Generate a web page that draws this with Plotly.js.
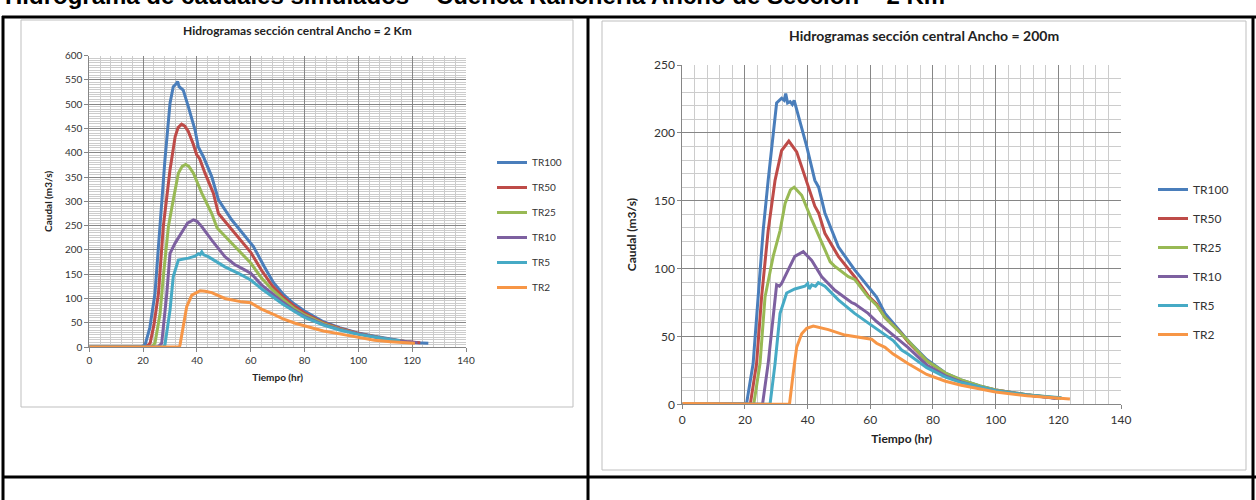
<!DOCTYPE html>
<html><head><meta charset="utf-8">
<script src="https://cdn.plot.ly/plotly-3.0.1.min.js"></script>
<style>html,body{margin:0;padding:0;background:#fff}#g{width:1256px;height:500px}</style>
</head><body><div id="g"></div>
<script>
const seriesNames = ['TR100','TR50','TR25','TR10','TR5','TR2'];
const seriesColors = ['#4A7EBB','#BE4B48','#98B954','#7D60A0','#46AAC5','#F79646'];

// Left chart: Ancho = 2 Km
const L_t_TR100 = [0,19,20.7,22.5,24.4,26.3,28.1,30,31.2,32.3,32.8,33.4,34.9,36.8,39.3,40.5,42.4,45.5,48,52.9,56,59,61,65,68.4,72,75.8,80,87,93,99.4,106,112,118,121.7,126];
const L_q_TR100 = [0,0,4,40,110,248,385,502,536,542,547,536,529,495,447,412,392,351,303,262,241,220,207,166,133,109,90,74,52,40,29.5,22,16,11,9,7.6];
const L_t_TR50 = [0,21,22.6,24,25.7,27.5,30,31.9,33,34.3,35.5,36.8,38.5,39.9,41,43,46.1,48,51,54.2,56,60,64,68,72,76,80,87,93,100,106,112,118,123];
const L_q_TR50 = [0,0,7.6,45,110,248,365,433,452,459,455,444,420,396,388,358,317,275,255,234,222,195,158,126,103,85,70,50,39,28,21,15,11,9];
const L_t_TR25 = [0,23,24.4,26.3,27.5,28.5,29.4,31.2,33.1,34.5,35.8,37,38.7,41.8,45.5,47.5,48.2,51,54.2,56,60,64,68,72,76,80,87,93,100,106,112,118];
const L_q_TR25 = [0,0,7.6,69,145,200,248,303,358,372,376,372,358,317,275,245,241,225,207,198,173,142,118,98,80,66,48,37,27,21,15,11];
const L_t_TR10 = [0,25.5,26.9,28.8,30,31.9,34.9,36.5,38.7,40,41.8,45.5,50.4,54,56.7,60,64,68,72,76,80,87,93,100,106,112,118,122];
const L_q_TR10 = [0,0,7.6,110,193,214,241,255,262,259,248,220,186,170,162,152,128,110,92,76,63,46,36,27,21,15,11,9];
const L_t_TR5 = [0,27.5,28.1,30,31.2,33.1,36.8,39.3,40.5,41.2,41.8,42.5,44.2,50.4,56,60,64,68,72,76,80,87,93,100,106,112,115.5];
const L_q_TR5 = [0,0,4,76,145,179,183,187,192,190,196,190,186,165,150,138,120,104,88,74,61,45,35,26,20,15,13];
const L_t_TR2 = [0,33.5,33.7,34.9,36.2,38.1,41.2,43,45.5,50.4,56.7,60,64,67.8,72,76.5,80.8,87,93,100,106,112,118,121];
const L_q_TR2 = [0,0,4,42,83,107,116,115,112,100,93,91,78,69,58,49,42,33,27,20,14,11,9,7.5];

// Right chart: Ancho = 200m
const R_t_TR100 = [0,20.3,20.5,22.6,24.2,25.8,27.4,29,30.1,31.7,32.5,33,33.6,34.4,35.1,35.7,37.5,39.7,42.3,43.5,45.5,49.8,55,59.3,62,64.7,67.3,70,72,78,84,89,95,100,110,119.5];
const R_q_TR100 = [0,0,0.5,30,79,128,165,202,222,225.5,224,229,222,223,221,224,209.5,190,165,160,141,116,99,87,79,67,60,53,47,33,23,18,13.5,10.5,7,4.5];
const R_t_TR50 = [0,21.7,23.7,25.3,27.4,29.6,31.7,34,36.5,39.1,42.3,43.5,45.5,49.8,55,59.3,62,64.7,67.3,70,72,78,84,89,95,100,110,120];
const R_q_TR50 = [0,0,30,79,128,165,187,194,186,168,146,141,126,109,94,80,74,64,58,52,46,32,22.5,17.5,13,10.5,6.8,4.5];
const R_t_TR25 = [0,22.8,24.8,26.4,29,31.2,32.8,34.5,35.7,38.1,41.3,44.5,47.2,48.5,53,55,59.3,62,64.7,67.3,70,72,78,84,89,95,100,110,121];
const R_q_TR25 = [0,0,30,79,109,128,148,158,160,154,136,119,105,102,94,92,79,73,64,58,52,47,32,23,18,13.5,10.5,7,4.5];
const R_t_TR10 = [0,25.6,27.4,29,30.1,31,31.7,33.8,35.9,38.6,41.3,44.5,48.7,54,55,59.3,62,64.7,67.3,70,72,78,84,89,95,100,110,119];
const R_q_TR10 = [0,0,30,67,88,87,89,99,109,112.5,106,94,84,75,74,67,61,56,51,46,42,29,21,16.5,12.5,10,6.8,4.5];
const R_t_TR5 = [0,28,29.6,31.2,33.3,35.9,39.1,40,40.5,41.3,42.5,43.4,45.5,49.8,55,59.3,62,64.7,67.3,70,72,78,84,89,95,100,110,121];
const R_q_TR5 = [0,0,30,67,82,85,87,89,85,88,87,89.6,87,77,67,60,56,51,47,40,37,27,20,16,12.5,10,6.8,4.8];
const R_t_TR2 = [0,15,34.2,35.4,36.5,38.1,39.7,41.8,46.6,51.9,57.2,60.4,62,64.7,67.3,70,72,78,84,89,95,100,110,123.7];
const R_q_TR2 = [0.5,0.5,0,23,42,52,56,57.7,55,51,49,48,45,42,37,33,30,22,17,14,11,9,6.3,3.9];

const leftT = [L_t_TR100,L_t_TR50,L_t_TR25,L_t_TR10,L_t_TR5,L_t_TR2];
const leftQ = [L_q_TR100,L_q_TR50,L_q_TR25,L_q_TR10,L_q_TR5,L_q_TR2];
const rightT = [R_t_TR100,R_t_TR50,R_t_TR25,R_t_TR10,R_t_TR5,R_t_TR2];
const rightQ = [R_q_TR100,R_q_TR50,R_q_TR25,R_q_TR10,R_q_TR5,R_q_TR2];

const W = 1256, H = 500;
const px = v => v / W;
const py = v => 1 - v / H;

const traces = [];
seriesNames.forEach((n, i) => {
  traces.push({x: leftT[i], y: leftQ[i], name: n, type: 'scatter', mode: 'lines',
    xaxis: 'x', yaxis: 'y', legend: 'legend', legendgroup: 'L' + n,
    line: {color: seriesColors[i], width: 3}});
});
seriesNames.forEach((n, i) => {
  traces.push({x: rightT[i], y: rightQ[i], name: n, type: 'scatter', mode: 'lines',
    xaxis: 'x2', yaxis: 'y2', legend: 'legend2', legendgroup: 'R' + n,
    line: {color: seriesColors[i], width: 3}});
});

const FONT = 'Lato, Carlito, Calibri, sans-serif';
function axis(o) {
  return Object.assign({
    showgrid: true, gridcolor: '#868686', gridwidth: 1,
    zeroline: false, showline: true, linecolor: '#868686', linewidth: 1,
    ticks: 'outside', ticklen: 4, tickcolor: '#868686',
    tickfont: {family: FONT, color: '#333', size: 10},
    fixedrange: true
  }, o);
}

const layout = {
  width: W, height: H,
  margin: {l: 0, r: 0, t: 0, b: 0},
  paper_bgcolor: '#fff', plot_bgcolor: '#fff',
  font: {family: FONT, color: '#333'},
  showlegend: true,
  xaxis: axis({domain: [px(89.3), px(466)], anchor: 'y', range: [0, 140], dtick: 20,
    minor: {dtick: 4, showgrid: true, gridcolor: '#cccccc'},
    tickfont: {family: FONT, color: '#333', size: 10},
    title: {text: '<b>Tiempo (hr)</b>', font: {family: FONT, size: 10, color: '#222'}, standoff: 8}}),
  yaxis: axis({domain: [py(347), py(55.7)], anchor: 'x', range: [0, 600], dtick: 50,
    minor: {dtick: 5, showgrid: true, gridcolor: '#cccccc'},
    tickfont: {family: FONT, color: '#333', size: 10},
    title: {text: '<b>Caudal (m3/s)</b>', font: {family: FONT, size: 10, color: '#222'}, standoff: 10}}),
  xaxis2: axis({domain: [px(682.3), px(1121)], anchor: 'y2', range: [0, 140], dtick: 20,
    minor: {dtick: 4, showgrid: true, gridcolor: '#cccccc'},
    tickfont: {family: FONT, color: '#333', size: 12},
    title: {text: '<b>Tiempo (hr)</b>', font: {family: FONT, size: 12, color: '#222'}, standoff: 8}}),
  yaxis2: axis({domain: [py(404.3), py(65)], anchor: 'x2', range: [0, 250], dtick: 50,
    minor: {dtick: 10, showgrid: true, gridcolor: '#cccccc'},
    tickfont: {family: FONT, color: '#333', size: 12},
    title: {text: '<b>Caudal (m3/s)</b>', font: {family: FONT, size: 12, color: '#222'}, standoff: 14}}),
  legend: {x: px(492), y: py(148), xanchor: 'left', yanchor: 'top', bgcolor: 'rgba(0,0,0,0)',
    font: {family: FONT, size: 10, color: '#333'}, traceorder: 'grouped', tracegroupgap: 6, itemwidth: 30},
  legend2: {x: px(1153), y: py(175), xanchor: 'left', yanchor: 'top', bgcolor: 'rgba(0,0,0,0)',
    font: {family: FONT, size: 12, color: '#333'}, traceorder: 'grouped', tracegroupgap: 10, itemwidth: 30},
  annotations: [
    {xref: 'paper', yref: 'paper', x: px(3), y: py(11), xanchor: 'left', yanchor: 'bottom', showarrow: false,
     text: '<b>Hidrograma de caudales simulados – Cuenca Ranchería Ancho de Sección = 2 Km</b>',
     font: {family: 'Liberation Sans, Arial, sans-serif', size: 24, color: '#000'}},
    {xref: 'paper', yref: 'paper', x: px(297), y: py(30), xanchor: 'center', yanchor: 'middle', showarrow: false,
     text: '<b>Hidrogramas sección central Ancho = 2 Km</b>', font: {family: FONT, size: 12, color: '#222'}},
    {xref: 'paper', yref: 'paper', x: px(924), y: py(36), xanchor: 'center', yanchor: 'middle', showarrow: false,
     text: '<b>Hidrogramas sección central Ancho = 200m</b>', font: {family: FONT, size: 14, color: '#222'}}
  ],
  shapes: [
    {type: 'rect', xref: 'paper', yref: 'paper', x0: px(21), x1: px(573), y0: py(20), y1: py(407), line: {color: '#bfbfbf', width: 1}},
    {type: 'rect', xref: 'paper', yref: 'paper', x0: px(602), x1: px(1246), y0: py(21), y1: py(470), line: {color: '#bfbfbf', width: 1}},
    {type: 'line', xref: 'paper', yref: 'paper', x0: px(2), x1: px(1256), y0: py(17), y1: py(17), line: {color: '#000', width: 3}},
    {type: 'line', xref: 'paper', yref: 'paper', x0: px(2), x1: px(1256), y0: py(477), y1: py(477), line: {color: '#000', width: 3}},
    {type: 'line', xref: 'paper', yref: 'paper', x0: px(3), x1: px(3), y0: py(16), y1: py(500), line: {color: '#000', width: 3}},
    {type: 'line', xref: 'paper', yref: 'paper', x0: px(588), x1: px(588), y0: py(16), y1: py(500), line: {color: '#000', width: 3}},
    {type: 'line', xref: 'paper', yref: 'paper', x0: px(1253), x1: px(1253), y0: py(16), y1: py(500), line: {color: '#000', width: 3}}
  ]
};

Plotly.newPlot('g', traces, layout, {displayModeBar: false, staticPlot: true});
</script>
</body></html>
